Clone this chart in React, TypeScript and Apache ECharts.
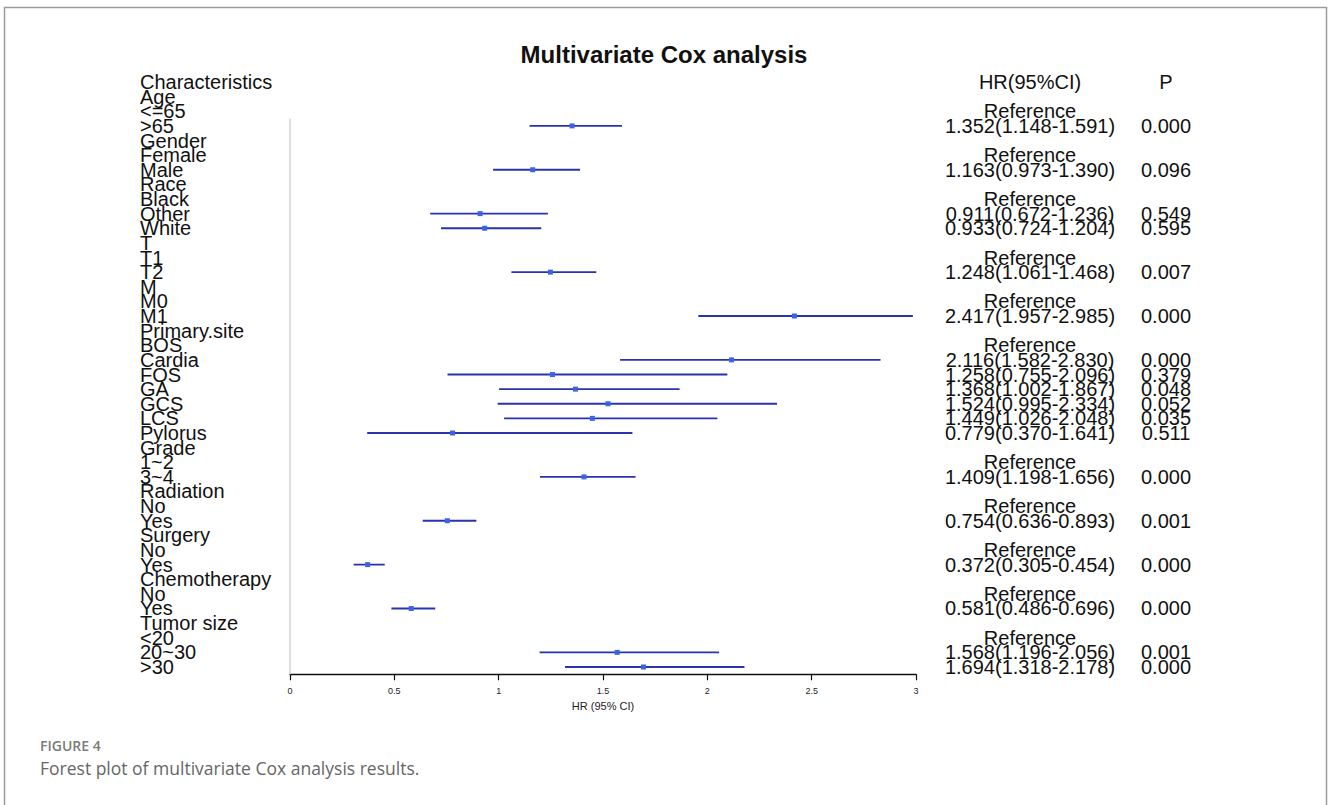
import { useEffect, useRef } from "react";
import * as echarts from "echarts";

const FONT = "'Liberation Sans', Arial, Helvetica, sans-serif";

// Row labels of the table, top to bottom (row 0 is the header)
const rowLabels = [
  "Characteristics",
  "Age", "<=65", ">65",
  "Gender", "Female", "Male",
  "Race", "Black", "Other", "White",
  "T", "T1", "T2",
  "M", "M0", "M1",
  "Primary.site", "BOS", "Cardia", "FOS", "GA", "GCS", "LCS", "Pylorus",
  "Grade", "1~2", "3~4",
  "Radiation", "No", "Yes",
  "Surgery", "No", "Yes",
  "Chemotherapy", "No", "Yes",
  "Tumor size", "<20", "20~30", ">30",
];

// Rows holding the reference level of each variable
const referenceRows = [2, 5, 8, 12, 15, 18, 26, 29, 32, 35, 38];

// Hazard ratios and 95% CI, aligned with rowLabels
const hazardRatio = [
  null, null, null, 1.352,
  null, null, 1.163,
  null, null, 0.911, 0.933,
  null, null, 1.248,
  null, null, 2.417,
  null, null, 2.116, 1.258, 1.368, 1.524, 1.449, 0.779,
  null, null, 1.409,
  null, null, 0.754,
  null, null, 0.372,
  null, null, 0.581,
  null, null, 1.568, 1.694,
];
const lowerCI = [
  null, null, null, 1.148,
  null, null, 0.973,
  null, null, 0.672, 0.724,
  null, null, 1.061,
  null, null, 1.957,
  null, null, 1.582, 0.755, 1.002, 0.995, 1.026, 0.37,
  null, null, 1.198,
  null, null, 0.636,
  null, null, 0.305,
  null, null, 0.486,
  null, null, 1.196, 1.318,
];
const upperCI = [
  null, null, null, 1.591,
  null, null, 1.39,
  null, null, 1.236, 1.204,
  null, null, 1.468,
  null, null, 2.985,
  null, null, 2.83, 2.096, 1.867, 2.334, 2.048, 1.641,
  null, null, 1.656,
  null, null, 0.893,
  null, null, 0.454,
  null, null, 0.696,
  null, null, 2.056, 2.178,
];
const pValue = [
  null, null, null, "0.000",
  null, null, "0.096",
  null, null, "0.549", "0.595",
  null, null, "0.007",
  null, null, "0.000",
  null, null, "0.000", "0.379", "0.048", "0.052", "0.035", "0.511",
  null, null, "0.000",
  null, null, "0.001",
  null, null, "0.000",
  null, null, "0.000",
  null, null, "0.001", "0.000",
];

const xTicks = { min: 0, max: 3, interval: 0.5 };

const rowIds = rowLabels.map((_, i) => String(i));

const hrText = rowLabels.map((_, i) => {
  if (i === 0) return "HR(95%CI)";
  if (referenceRows.includes(i)) return "Reference";
  const h = hazardRatio[i];
  if (h == null) return "";
  return `${h.toFixed(3)}(${(lowerCI[i] as number).toFixed(3)}-${(upperCI[i] as number).toFixed(3)})`;
});
const pText = rowLabels.map((_, i) => (i === 0 ? "P" : pValue[i] ?? ""));

const ciData = hazardRatio
  .map((h, i) => (h == null ? null : [lowerCI[i], i, upperCI[i], h]))
  .filter((d) => d !== null);

const firstEstimateRow = hazardRatio.findIndex((h) => h != null);

const tableAxis = (margin: number, align: string, texts: string[]) => ({
  type: "category",
  inverse: true,
  data: rowIds,
  axisLine: { show: false },
  axisTick: { show: false },
  splitLine: { show: false },
  axisLabel: {
    interval: 0,
    margin,
    align,
    fontFamily: FONT,
    fontSize: 20,
    color: "#111",
    formatter: (_v: string, i: number) => texts[i],
  },
});

export default function App() {
  const ref = useRef<HTMLDivElement>(null);

  useEffect(() => {
    const chart = echarts.init(ref.current!, null, { renderer: "svg" });
    chart.setOption({
      animation: false,
      backgroundColor: "#ffffff",
      title: {
        text: "Multivariate Cox analysis",
        left: "center",
        top: 37,
        textStyle: { fontFamily: FONT, fontSize: 24, fontWeight: "bold", color: "#111" },
      },
      grid: { left: 290, right: 412, top: 74.7, bottom: 130.7 },
      xAxis: {
        type: "value",
        ...xTicks,
        axisLine: { show: true, lineStyle: { color: "#111", width: 1.3 } },
        axisTick: { show: true, length: 6, lineStyle: { color: "#111", width: 1.2 } },
        splitLine: { show: false },
        axisLabel: { fontFamily: FONT, fontSize: 9, color: "#222", margin: 12 },
        name: "HR (95% CI)",
        nameLocation: "middle",
        nameGap: 26,
        nameTextStyle: { fontFamily: FONT, fontSize: 11, color: "#222" },
      },
      yAxis: [
        tableAxis(150, "left", rowLabels),
        { ...tableAxis(114, "center", hrText), position: "right" },
        { ...tableAxis(250, "center", pText), position: "right" },
      ],
      series: [
        {
          // vertical line at HR = 0 spanning the estimate rows
          type: "custom",
          clip: false,
          silent: true,
          data: [[0, firstEstimateRow, rowLabels.length - 1]],
          encode: { x: 0, y: [1, 2] },
          renderItem: (_p: any, api: any) => {
            const band = api.size([0, 1])[1];
            const top = api.coord([api.value(0), api.value(1)]);
            const bottom = api.coord([api.value(0), api.value(2)]);
            return {
              type: "line",
              shape: { x1: top[0], y1: top[1] - band / 2, x2: bottom[0], y2: bottom[1] + band / 2 },
              style: { stroke: "#d4d4d4", lineWidth: 1.5 },
            };
          },
        },
        {
          type: "custom",
          clip: false,
          data: ciData,
          encode: { x: [0, 2, 3], y: 1 },
          renderItem: (_p: any, api: any) => {
            const row = api.value(1);
            const lo = api.coord([api.value(0), row]);
            const hi = api.coord([api.value(2), row]);
            const c = api.coord([api.value(3), row]);
            return {
              type: "group",
              children: [
                {
                  type: "line",
                  shape: { x1: lo[0], y1: lo[1], x2: hi[0], y2: hi[1] },
                  style: { stroke: "#2a33ad", lineWidth: 1.8 },
                },
                {
                  type: "rect",
                  shape: { x: c[0] - 2.5, y: c[1] - 2.5, width: 5, height: 5 },
                  style: { fill: "#3b63e6" },
                },
              ],
            };
          },
        },
      ],
      graphic: [
        {
          type: "rect",
          silent: true,
          shape: { x: 4.5, y: 7.5, width: 1322, height: 820 },
          style: { fill: "none", stroke: "#9a9a9a", lineWidth: 1.5 },
        },
        {
          type: "text",
          style: {
            x: 40,
            y: 745.5,
            text: "FIGURE 4",
            verticalAlign: "middle",
            font: "600 14px 'Open Sans', sans-serif",
            fill: "#7a7a7a",
          },
        },
        {
          type: "text",
          style: {
            x: 40,
            y: 768,
            text: "Forest plot of multivariate Cox analysis results.",
            verticalAlign: "middle",
            font: "400 17.5px 'Open Sans', sans-serif",
            fill: "#666666",
          },
        },
      ],
    });
    return () => chart.dispose();
  }, []);

  return (
    <div
      ref={ref}
      style={{ position: "fixed", left: 0, top: 0, width: 1328, height: 805, background: "#fff" }}
    />
  );
}
